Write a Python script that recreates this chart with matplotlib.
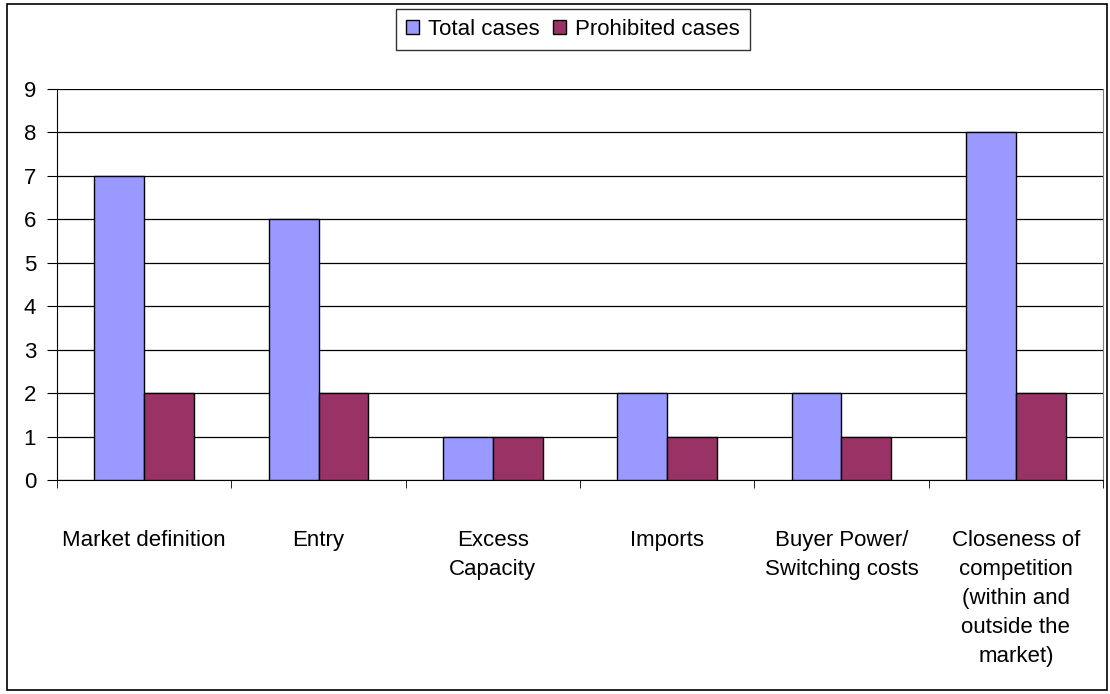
import matplotlib.pyplot as plt
from matplotlib.patches import Rectangle
import numpy as np

categories = ["Market definition", "Entry", "Excess\nCapacity", "Imports",
              "Buyer Power/\nSwitching costs",
              "Closeness of\ncompetition\n(within and\noutside the\nmarket)"]
total_cases = [7, 6, 1, 2, 2, 8]
prohibited_cases = [2, 2, 1, 1, 1, 2]

plt.rcParams['font.family'] = ['Liberation Sans', 'DejaVu Sans']
plt.rcParams['font.size'] = 16

fig = plt.figure(figsize=(11.1, 6.94), dpi=100)
ax = fig.add_axes([57 / 1110, 1 - 480 / 694, (1103 - 57) / 1110, (480 - 89) / 694])

# outer chart border
fig.patches.append(Rectangle((7 / 1110, 4 / 694), 1100 / 1110, 686 / 694,
                             transform=fig.transFigure, fill=False,
                             edgecolor="black", linewidth=1.2))

x = np.arange(len(categories))
w = 1 / 3.5
ax.bar(x - w / 2, total_cases, w, color="#9999FF", edgecolor="black",
       linewidth=1, label="Total cases", zorder=3)
ax.bar(x + w / 2, prohibited_cases, w, color="#993366", edgecolor="black",
       linewidth=1, label="Prohibited cases", zorder=3)

ax.set_xlim(-0.5, len(categories) - 0.5)
ax.set_ylim(0, 9)
ax.set_yticks(range(10))
ax.yaxis.grid(True, color="black", linewidth=0.9)
ax.set_axisbelow(True)

ax.set_xticks(x)
ax.set_xticklabels(categories, linespacing=1.5)
ax.tick_params(axis="x", which="major", length=0, pad=36)
ax.set_xticks(np.arange(len(categories) + 1) - 0.5, minor=True)
ax.tick_params(axis="x", which="minor", length=6, direction="out")
ax.tick_params(axis="y", length=7, direction="out", pad=8)

ax.spines["top"].set_visible(False)
ax.spines["right"].set_color("#808080")
ax.spines["left"].set_color("black")
ax.spines["bottom"].set_color("black")

leg = fig.legend(loc="upper center", bbox_to_anchor=(573 / 1110, 1 - 9 / 694), ncol=2,
                 frameon=True, fancybox=False, edgecolor="black",
                 handlelength=0.6, handleheight=0.6, handletextpad=0.4,
                 columnspacing=0.6, borderpad=0.45, borderaxespad=0, fontsize=16)
leg.get_frame().set_linewidth(1)

fig.savefig("out.png", dpi=100)
